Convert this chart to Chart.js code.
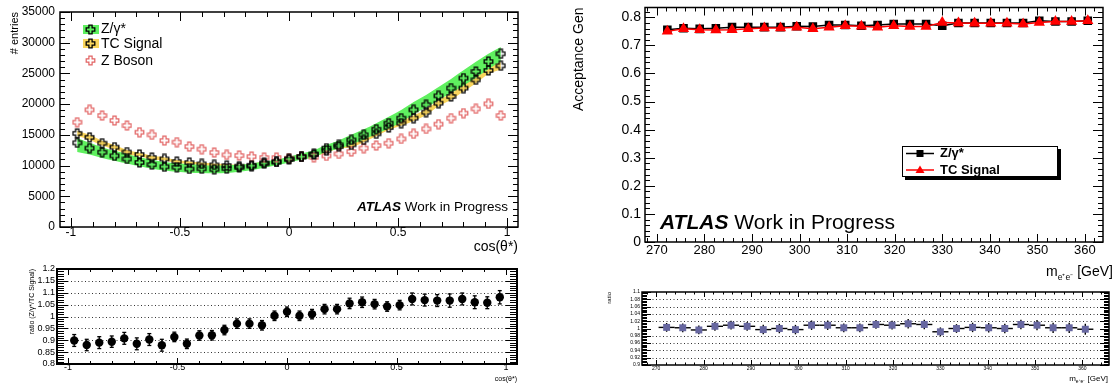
<!DOCTYPE html>
<html><head><meta charset="utf-8">
<script src="https://cdn.jsdelivr.net/npm/chart.js@4.4.1/dist/chart.umd.min.js"></script>
<style>
body{margin:0;background:#fff;width:1116px;height:383px;overflow:hidden;position:relative}
canvas{position:absolute;display:block}
</style></head><body>
<canvas id="c1" width="560" height="255" style="left:0;top:0"></canvas>
<canvas id="c2" width="560" height="128" style="left:0;top:255px"></canvas>
<canvas id="c3" width="556" height="280" style="left:560px;top:0"></canvas>
<canvas id="c4" width="556" height="103" style="left:560px;top:280px"></canvas>
<script>
// ---------- DATA ----------
const cosTheta = [-0.9714,-0.9143,-0.8571,-0.8,-0.7429,-0.6857,-0.6286,-0.5714,-0.5143,-0.4571,-0.4,-0.3429,-0.2857,-0.2286,-0.1714,-0.1143,-0.0571,0,0.0571,0.1143,0.1714,0.2286,0.2857,0.3429,0.4,0.4571,0.5143,0.5714,0.6286,0.6857,0.7429,0.8,0.8571,0.9143,0.9714];
const zgEntries = [13700,12830,12170,11580,11080,10500,10150,9800,9730,9450,9480,9400,9500,9700,9900,10300,10600,11100,11450,11900,12830,13370,14180,15000,15920,16900,17720,19070,19890,21350,22610,24240,25310,26940,28200];
const tcEntries = [15250,14600,13650,13000,12200,11800,11300,11090,10650,10480,10270,10110,10000,9900,10050,10450,10600,11000,11400,11800,12440,13090,13370,14180,15160,16190,16900,17720,18700,20160,21240,22610,23960,25480,26240];
const zBosonEntries = [17060,19070,18140,17330,16510,15430,15000,14070,13810,13090,12670,12110,11740,11620,11460,11300,11300,11200,11460,11350,11570,11900,12280,12830,13250,13640,14340,15160,15970,16740,17720,18530,19230,20050,18140];
const zgBandHi = [14500,13700,13000,12400,11900,11350,10950,10600,10400,10200,10100,10000,10050,10150,10350,10650,11000,11450,11950,12500,13400,14100,15000,15900,16900,17950,19050,20350,21500,22800,24100,25500,26900,28200,29300];
const zgBandLo = [12200,11800,11250,10800,10350,9900,9500,9200,9000,8850,8800,8750,8800,9000,9250,9650,10050,10500,10950,11350,12250,12750,13450,14250,15150,16050,17050,18350,19450,20650,21800,23000,24300,25700,27000];
const tcBandHi = [15650,15000,14050,13350,12550,12100,11600,11350,10900,10720,10500,10340,10230,10150,10300,10700,10880,11280,11700,12120,12780,13420,13750,14560,15560,16600,17330,18170,19170,20650,21750,23150,24520,26050,26850];
const tcBandLo = [14850,14200,13250,12650,11850,11500,11000,10830,10400,10240,10040,9880,9770,9650,9800,10200,10320,10720,11100,11480,12100,12760,13000,13800,14760,15780,16470,17270,18230,19670,20730,22070,23400,24910,25630];
const ratioL = [0.899,0.88,0.89,0.894,0.908,0.885,0.903,0.879,0.914,0.885,0.92,0.921,0.943,0.97,0.97,0.963,1.003,1.02,1.003,1.01,1.031,1.031,1.055,1.06,1.052,1.042,1.048,1.074,1.069,1.067,1.067,1.074,1.06,1.058,1.081];
const ratioLErr = [0.025,0.024,0.025,0.024,0.025,0.025,0.025,0.025,0.02,0.02,0.02,0.02,0.02,0.02,0.02,0.02,0.02,0.02,0.02,0.02,0.02,0.02,0.022,0.022,0.02,0.02,0.02,0.025,0.025,0.025,0.028,0.025,0.027,0.025,0.028];

const mass = [272.2,275.6,279.0,282.4,285.8,289.2,292.6,296.0,299.4,302.8,306.2,309.6,313.0,316.4,319.8,323.2,326.6,330.0,333.4,336.8,340.2,343.6,347.0,350.4,353.8,357.2,360.6];
const accZg = [0.756,0.761,0.759,0.761,0.765,0.765,0.765,0.765,0.768,0.767,0.773,0.773,0.770,0.773,0.776,0.776,0.776,0.770,0.780,0.780,0.780,0.780,0.780,0.788,0.785,0.785,0.788];
const accTc = [0.750,0.759,0.756,0.755,0.756,0.759,0.762,0.762,0.765,0.759,0.765,0.770,0.768,0.765,0.770,0.767,0.767,0.782,0.780,0.779,0.779,0.779,0.776,0.782,0.785,0.785,0.788];
const ratioR = [1.003,1.002,0.996,1.006,1.009,1.006,0.997,1.0,0.997,1.009,1.009,1.002,1.002,1.011,1.009,1.013,1.011,0.991,1.0,1.003,1.002,1.0,1.011,1.009,1.002,1.002,0.998];
const ratioRErr = [0.012,0.012,0.012,0.012,0.012,0.012,0.013,0.013,0.013,0.013,0.013,0.012,0.012,0.012,0.012,0.013,0.013,0.012,0.012,0.013,0.013,0.013,0.013,0.014,0.014,0.014,0.015];
const massHalfBin = 1.7;

const xTicksCos = [-1,-0.5,0,0.5,1];
const xLabelsCos = ['-1','-0.5','0','0.5','1'];
const yTicksEntries = [0,5000,10000,15000,20000,25000,30000,35000];
const yLabelsEntries = ['0','5000','10000','15000','20000','25000','30000','35000'];
const yTicksRatioL = [0.8,0.85,0.9,0.95,1,1.05,1.1,1.15,1.2];
const yLabelsRatioL = ['0.8','0.85','0.9','0.95','1','1.05','1.1','1.15','1.2'];
const xTicksMass = [270,280,290,300,310,320,330,340,350,360];
const xLabelsMass = ['270','280','290','300','310','320','330','340','350','360'];
const yTicksAcc = [0,0.1,0.2,0.3,0.4,0.5,0.6,0.7,0.8];
const yLabelsAcc = ['0','0.1','0.2','0.3','0.4','0.5','0.6','0.7','0.8'];
const yTicksRatioR = [0.9,0.92,0.94,0.96,0.98,1,1.02,1.04,1.06,1.08,1.1];
const yLabelsRatioR = ['0.9','0.92','0.94','0.96','0.98','1','1.02','1.04','1.06','1.08','1.1'];

// ---------- helpers ----------
const FONT = "'Liberation Sans', Arial, Helvetica, sans-serif";
Chart.defaults.font.family = FONT;
Chart.defaults.color = '#000';
const GREEN = '#5ff05f', YELLOW = '#f9d55c', ZRED = '#e26262';
const pts = (xs, ys) => xs.map((x, i) => ({x, y: ys[i]}));

function makeCross(color, lw) {
  const n = 11, c = document.createElement('canvas'); c.width = n; c.height = n;
  const g = c.getContext('2d'); const m = n / 2, a = 1.6, L = 4.3;
  g.beginPath();
  g.moveTo(m-a,m-L); g.lineTo(m+a,m-L); g.lineTo(m+a,m-a); g.lineTo(m+L,m-a); g.lineTo(m+L,m+a); g.lineTo(m+a,m+a);
  g.lineTo(m+a,m+L); g.lineTo(m-a,m+L); g.lineTo(m-a,m+a); g.lineTo(m-L,m+a); g.lineTo(m-L,m-a); g.lineTo(m-a,m-a); g.closePath();
  g.strokeStyle = color; g.lineWidth = lw; g.stroke();
  return c;
}
const crossBlack = makeCross('#000', 1.3);
const crossRed = makeCross(ZRED, 1.2);

function line(ctx, x1, y1, x2, y2) { ctx.beginPath(); ctx.moveTo(x1, y1); ctx.lineTo(x2, y2); ctx.stroke(); }

// ROOT-like frame with inner ticks and optional dotted grid
function rootFrame(cfg) {
  return {
    id: 'rootFrame',
    beforeDatasetsDraw(chart) {
      if (!cfg.grid) return;
      const {ctx, chartArea: a, scales: {y}} = chart;
      ctx.save(); ctx.setLineDash([1, 2.5]); ctx.strokeStyle = '#333'; ctx.lineWidth = 1;
      cfg.grid.forEach(v => { const py = Math.round(y.getPixelForValue(v)) + 0.5; line(ctx, a.left, py, a.right, py); });
      ctx.restore();
    },
    afterDatasetsDraw(chart) {
      const {ctx, chartArea: a, scales: {x, y}} = chart;
      ctx.save(); ctx.strokeStyle = '#000'; ctx.lineWidth = 1;
      const isMaj = (v, arr) => arr.some(t => Math.abs(t - v) < 1e-6);
      const xs = Math.ceil((x.min - 1e-9) / cfg.xMinor);
      for (let k = xs; k * cfg.xMinor <= x.max + 1e-9; k++) {
        const v = +(k * cfg.xMinor).toFixed(6); const px = Math.round(x.getPixelForValue(v)) + 0.5;
        const L = isMaj(v, cfg.xMajor) ? cfg.xLen[0] : cfg.xLen[1];
        line(ctx, px, a.bottom, px, a.bottom - L); line(ctx, px, a.top, px, a.top + L);
      }
      const ys = Math.ceil((y.min - 1e-9) / cfg.yMinor);
      for (let k = ys; k * cfg.yMinor <= y.max + 1e-9; k++) {
        const v = +(k * cfg.yMinor).toFixed(6); const py = Math.round(y.getPixelForValue(v)) + 0.5;
        const L = isMaj(v, cfg.yMajor) ? cfg.yLen[0] : cfg.yLen[1];
        line(ctx, a.left, py, a.left + L, py); line(ctx, a.right, py, a.right - L, py);
      }
      ctx.lineWidth = cfg.frame || 1.5;
      ctx.strokeRect(a.left, a.top, a.right - a.left, a.bottom - a.top);
      ctx.restore();
    }
  };
}

function axisX(min, max, ticks, labels, fontSize, pad, height, title) {
  return {
    type: 'linear', min, max,
    afterBuildTicks: s => { s.ticks = ticks.map(v => ({value: v})); },
    afterFit: s => { s.height = height; },
    ticks: {autoSkip: false, maxRotation: 0, padding: pad, font: {size: fontSize}, color: '#000',
      callback: (v, i) => labels[i]},
    grid: {display: false, drawTicks: false}, border: {display: false},
    title: title || {display: false}
  };
}
function axisY(min, max, ticks, labels, fontSize, pad, width, title) {
  return {
    type: 'linear', min, max,
    afterBuildTicks: s => { s.ticks = ticks.map(v => ({value: v})); },
    afterFit: s => { s.width = width; },
    ticks: {autoSkip: false, padding: pad, font: {size: fontSize, lineHeight: 0.5}, color: '#000',
      callback: (v, i) => labels[i]},
    grid: {display: false, drawTicks: false}, border: {display: false},
    title: title || {display: false}
  };
}
const baseOpts = {responsive: false, animation: false, events: [],
  plugins: {legend: {display: false}, tooltip: {enabled: false}}};

function atlas(ctx, x, baseline, size) {
  ctx.save(); ctx.fillStyle = '#000'; ctx.textBaseline = 'alphabetic'; ctx.textAlign = 'left';
  ctx.font = `italic bold ${size}px ${FONT}`; ctx.fillText('ATLAS', x, baseline);
  const w = ctx.measureText('ATLAS').width;
  ctx.font = `${size}px ${FONT}`; ctx.fillText('Work in Progress', x + w + size * 0.28, baseline);
  ctx.restore();
}
function massTitle(ctx, right, baseline, size) {
  ctx.save(); ctx.fillStyle = '#000'; ctx.textBaseline = 'alphabetic';
  ctx.font = `${size}px ${FONT}`;
  const t2 = ' [GeV]'; const w2 = ctx.measureText(t2).width;
  const sub = 'e\u207Ae\u207B'; ctx.font = `${size * 0.62}px ${FONT}`; const ws = ctx.measureText(sub).width;
  ctx.font = `${size}px ${FONT}`; const wm = ctx.measureText('m').width;
  let x = right - w2 - ws - wm;
  ctx.fillText('m', x, baseline); x += wm;
  ctx.font = `${size * 0.62}px ${FONT}`; ctx.fillText(sub, x, baseline + size * 0.25); x += ws;
  ctx.font = `${size}px ${FONT}`; ctx.fillText(t2, x, baseline);
  ctx.restore();
}

// ---------- Panel 1: angular distribution ----------
new Chart(document.getElementById('c1'), {
  type: 'line',
  data: {datasets: [
    {label: 'Z/γ*', data: pts(cosTheta, zgEntries), showLine: false, pointStyle: crossBlack, pointRadius: 4, order: 0},
    {label: 'TC Signal', data: pts(cosTheta, tcEntries), showLine: false, pointStyle: crossBlack, pointRadius: 4, order: 1},
    {label: 'Z Boson', data: pts(cosTheta, zBosonEntries), showLine: false, pointStyle: crossRed, pointRadius: 4, order: 2},
    {label: 'zgHi', data: pts(cosTheta, zgBandHi), fill: '+1', backgroundColor: GREEN, borderWidth: 0, pointRadius: 0, tension: 0.4, cubicInterpolationMode: 'monotone', order: 5},
    {label: 'zgLo', data: pts(cosTheta, zgBandLo), fill: false, borderWidth: 0, pointRadius: 0, tension: 0.4, cubicInterpolationMode: 'monotone', order: 5},
    {label: 'tcHi', data: pts(cosTheta, tcBandHi), fill: '+1', backgroundColor: YELLOW, borderWidth: 0, pointRadius: 0, tension: 0.4, cubicInterpolationMode: 'monotone', order: 6},
    {label: 'tcLo', data: pts(cosTheta, tcBandLo), fill: false, borderWidth: 0, pointRadius: 0, tension: 0.4, cubicInterpolationMode: 'monotone', order: 6}
  ]},
  options: {...baseOpts,
    layout: {padding: {left: 0, top: 12, right: 42, bottom: 0}},
    scales: {
      x: axisX(-1.05, 1.05, xTicksCos, xLabelsCos, 12, -2, 28,
        {display: true, text: 'cos(θ*)', align: 'end', font: {size: 14}, color: '#000', padding: {top: 0, bottom: -1}}),
      y: axisY(0, 35000, yTicksEntries, yLabelsEntries, 12, 5, 60,
        {display: true, text: '# entries', align: 'end', font: {size: 11}, color: '#000', padding: {top: 8, bottom: 0}})
    }},
  plugins: [rootFrame({xMajor: xTicksCos, xMinor: 0.1, xLen: [9, 5], yMajor: yTicksEntries, yMinor: 1000, yLen: [10, 5], frame: 1.5}),
    {id: 'deco1', afterDraw(chart) {
      const ctx = chart.ctx;
      ctx.save();
      ctx.fillStyle = GREEN; ctx.fillRect(83, 25, 16, 9);
      ctx.fillStyle = YELLOW; ctx.fillRect(83, 39, 16, 9);
      ctx.drawImage(crossBlack, 90.5 - 5.5, 29.5 - 5.5);
      ctx.drawImage(crossBlack, 90.5 - 5.5, 43.5 - 5.5);
      ctx.drawImage(crossRed, 90.5 - 5.5, 60.5 - 5.5);
      ctx.fillStyle = '#000'; ctx.font = `14px ${FONT}`; ctx.textBaseline = 'middle';
      ctx.fillText('Z/γ*', 101, 29.5);
      ctx.fillText('TC Signal', 101, 44);
      ctx.fillText('Z Boson', 101, 61);
      ctx.restore();
      atlas(ctx, 357, 211, 13.5);
    }}]
});

// ---------- Panel 2: ratio (Z/γ*)/(TC Signal) ----------
new Chart(document.getElementById('c2'), {
  type: 'scatter',
  data: {datasets: [
    {label: 'ratio', data: pts(cosTheta, ratioL), pointStyle: 'circle', pointRadius: 4.2, backgroundColor: '#000', borderColor: '#000', borderWidth: 0}
  ]},
  options: {...baseOpts,
    layout: {padding: {left: 0, top: 14, right: 43, bottom: 0}},
    scales: {
      x: axisX(-1.05, 1.05, xTicksCos, xLabelsCos, 9, -2, 19,
        {display: true, text: 'cos(θ*)', align: 'end', font: {size: 7}, color: '#000', padding: {top: 0, bottom: 0}}),
      y: axisY(0.8, 1.2, yTicksRatioL, yLabelsRatioL, 9, 2, 57,
        {display: true, text: 'ratio (Z/γ*/TC Signal)', align: 'end', font: {size: 7}, color: '#000', padding: {top: 28, bottom: 0}})
    }},
  plugins: [rootFrame({grid: [0.85, 0.9, 0.95, 1, 1.05, 1.1, 1.15], xMajor: xTicksCos, xMinor: 0.1, xLen: [6, 3], yMajor: yTicksRatioL, yMinor: 0.01, yLen: [11, 7], frame: 2}),
    {id: 'err2', beforeDatasetsDraw(chart) {
      const {ctx, scales: {x, y}} = chart;
      ctx.save(); ctx.strokeStyle = '#000'; ctx.lineWidth = 1.3;
      cosTheta.forEach((c, i) => {
        const px = x.getPixelForValue(c), y1 = y.getPixelForValue(ratioL[i] - ratioLErr[i]), y2 = y.getPixelForValue(ratioL[i] + ratioLErr[i]);
        line(ctx, px, y1, px, y2); line(ctx, px - 2, y1, px + 2, y1); line(ctx, px - 2, y2, px + 2, y2);
      });
      ctx.restore();
    }}]
});

// ---------- Panel 3: acceptance ----------
new Chart(document.getElementById('c3'), {
  type: 'line',
  data: {datasets: [
    {label: 'TC Signal', data: pts(mass, accTc), borderColor: '#ff0000', backgroundColor: '#ff0000', borderWidth: 1.5, pointStyle: 'triangle', pointRadius: 5, tension: 0, order: 0},
    {label: 'Z/γ*', data: pts(mass, accZg), borderColor: '#000', backgroundColor: '#000', borderWidth: 1.5, pointStyle: 'rect', pointRadius: 5, tension: 0, order: 1}
  ]},
  options: {...baseOpts,
    layout: {padding: {left: 0, top: 5, right: 13, bottom: 0}},
    scales: {
      x: axisX(267.5, 363.8, xTicksMass, xLabelsMass, 13, 1, 38),
      y: axisY(0, 0.835, yTicksAcc, yLabelsAcc, 14, 4, 85,
        {display: true, text: 'Acceptance Gen', align: 'end', font: {size: 14}, color: '#000', padding: {top: 11, bottom: 0}})
    }},
  plugins: [rootFrame({xMajor: xTicksMass, xMinor: 2, xLen: [8, 4], yMajor: yTicksAcc, yMinor: 0.02, yLen: [10, 5], frame: 1.5}),
    {id: 'deco3', afterDraw(chart) {
      const ctx = chart.ctx;
      ctx.save();
      ctx.fillStyle = '#000'; ctx.fillRect(345, 149, 156, 31);
      ctx.fillStyle = '#fff'; ctx.fillRect(342, 146, 156, 31);
      ctx.strokeStyle = '#000'; ctx.lineWidth = 1; ctx.strokeRect(342.5, 146.5, 155, 30);
      ctx.lineWidth = 1.5;
      ctx.strokeStyle = '#000'; line(ctx, 346, 153.5, 374, 153.5);
      ctx.fillStyle = '#000'; ctx.fillRect(356.5, 150, 7, 7);
      ctx.strokeStyle = '#ff0000'; line(ctx, 346, 170, 374, 170);
      ctx.fillStyle = '#ff0000'; ctx.beginPath(); ctx.moveTo(360, 165.5); ctx.lineTo(364.5, 173); ctx.lineTo(355.5, 173); ctx.closePath(); ctx.fill();
      ctx.fillStyle = '#000'; ctx.font = `bold 13px ${FONT}`; ctx.textBaseline = 'middle';
      ctx.fillText('Z/γ*', 380, 153.5);
      ctx.fillText('TC Signal', 380, 170.5);
      ctx.restore();
      atlas(ctx, 100, 229, 21);
      massTitle(ctx, 553, 276, 14);
    }}]
});

// ---------- Panel 4: ratio of acceptances ----------
new Chart(document.getElementById('c4'), {
  type: 'scatter',
  data: {datasets: [
    {label: 'ratio', data: pts(mass, ratioR), pointStyle: 'rect', pointRadius: 4.9, backgroundColor: '#6767a0', borderColor: '#6767a0', borderWidth: 0}
  ]},
  options: {...baseOpts,
    layout: {padding: {left: 0, top: 12, right: 7, bottom: 0}},
    scales: {
      x: axisX(267.0, 365.6, xTicksMass, xLabelsMass, 5, 1, 18),
      y: axisY(0.9, 1.1, yTicksRatioR, yLabelsRatioR, 5, 2, 82,
        {display: true, text: 'ratio', align: 'end', font: {size: 6}, color: '#000', padding: {top: 46, bottom: 0}})
    }},
  plugins: [rootFrame({grid: [0.92, 0.94, 0.96, 0.98, 1.02, 1.04, 1.06, 1.08], xMajor: xTicksMass, xMinor: 2, xLen: [5, 2.5], yMajor: yTicksRatioR, yMinor: 0.004, yLen: [9, 5], frame: 1.5}),
    {id: 'err4', beforeDatasetsDraw(chart) {
      const {ctx, scales: {x, y}} = chart;
      ctx.save(); ctx.strokeStyle = '#000'; ctx.lineWidth = 1.4;
      mass.forEach((m, i) => {
        const px = x.getPixelForValue(m), py = y.getPixelForValue(ratioR[i]);
        line(ctx, x.getPixelForValue(m - massHalfBin), py, x.getPixelForValue(m + massHalfBin), py);
        line(ctx, px, y.getPixelForValue(ratioR[i] - ratioRErr[i]), px, y.getPixelForValue(ratioR[i] + ratioRErr[i]));
      });
      ctx.restore();
    }},
    {id: 'deco4', afterDraw(chart) { massTitle(chart.ctx, 548, 100.5, 8); }}]
});
</script>
</body></html>
